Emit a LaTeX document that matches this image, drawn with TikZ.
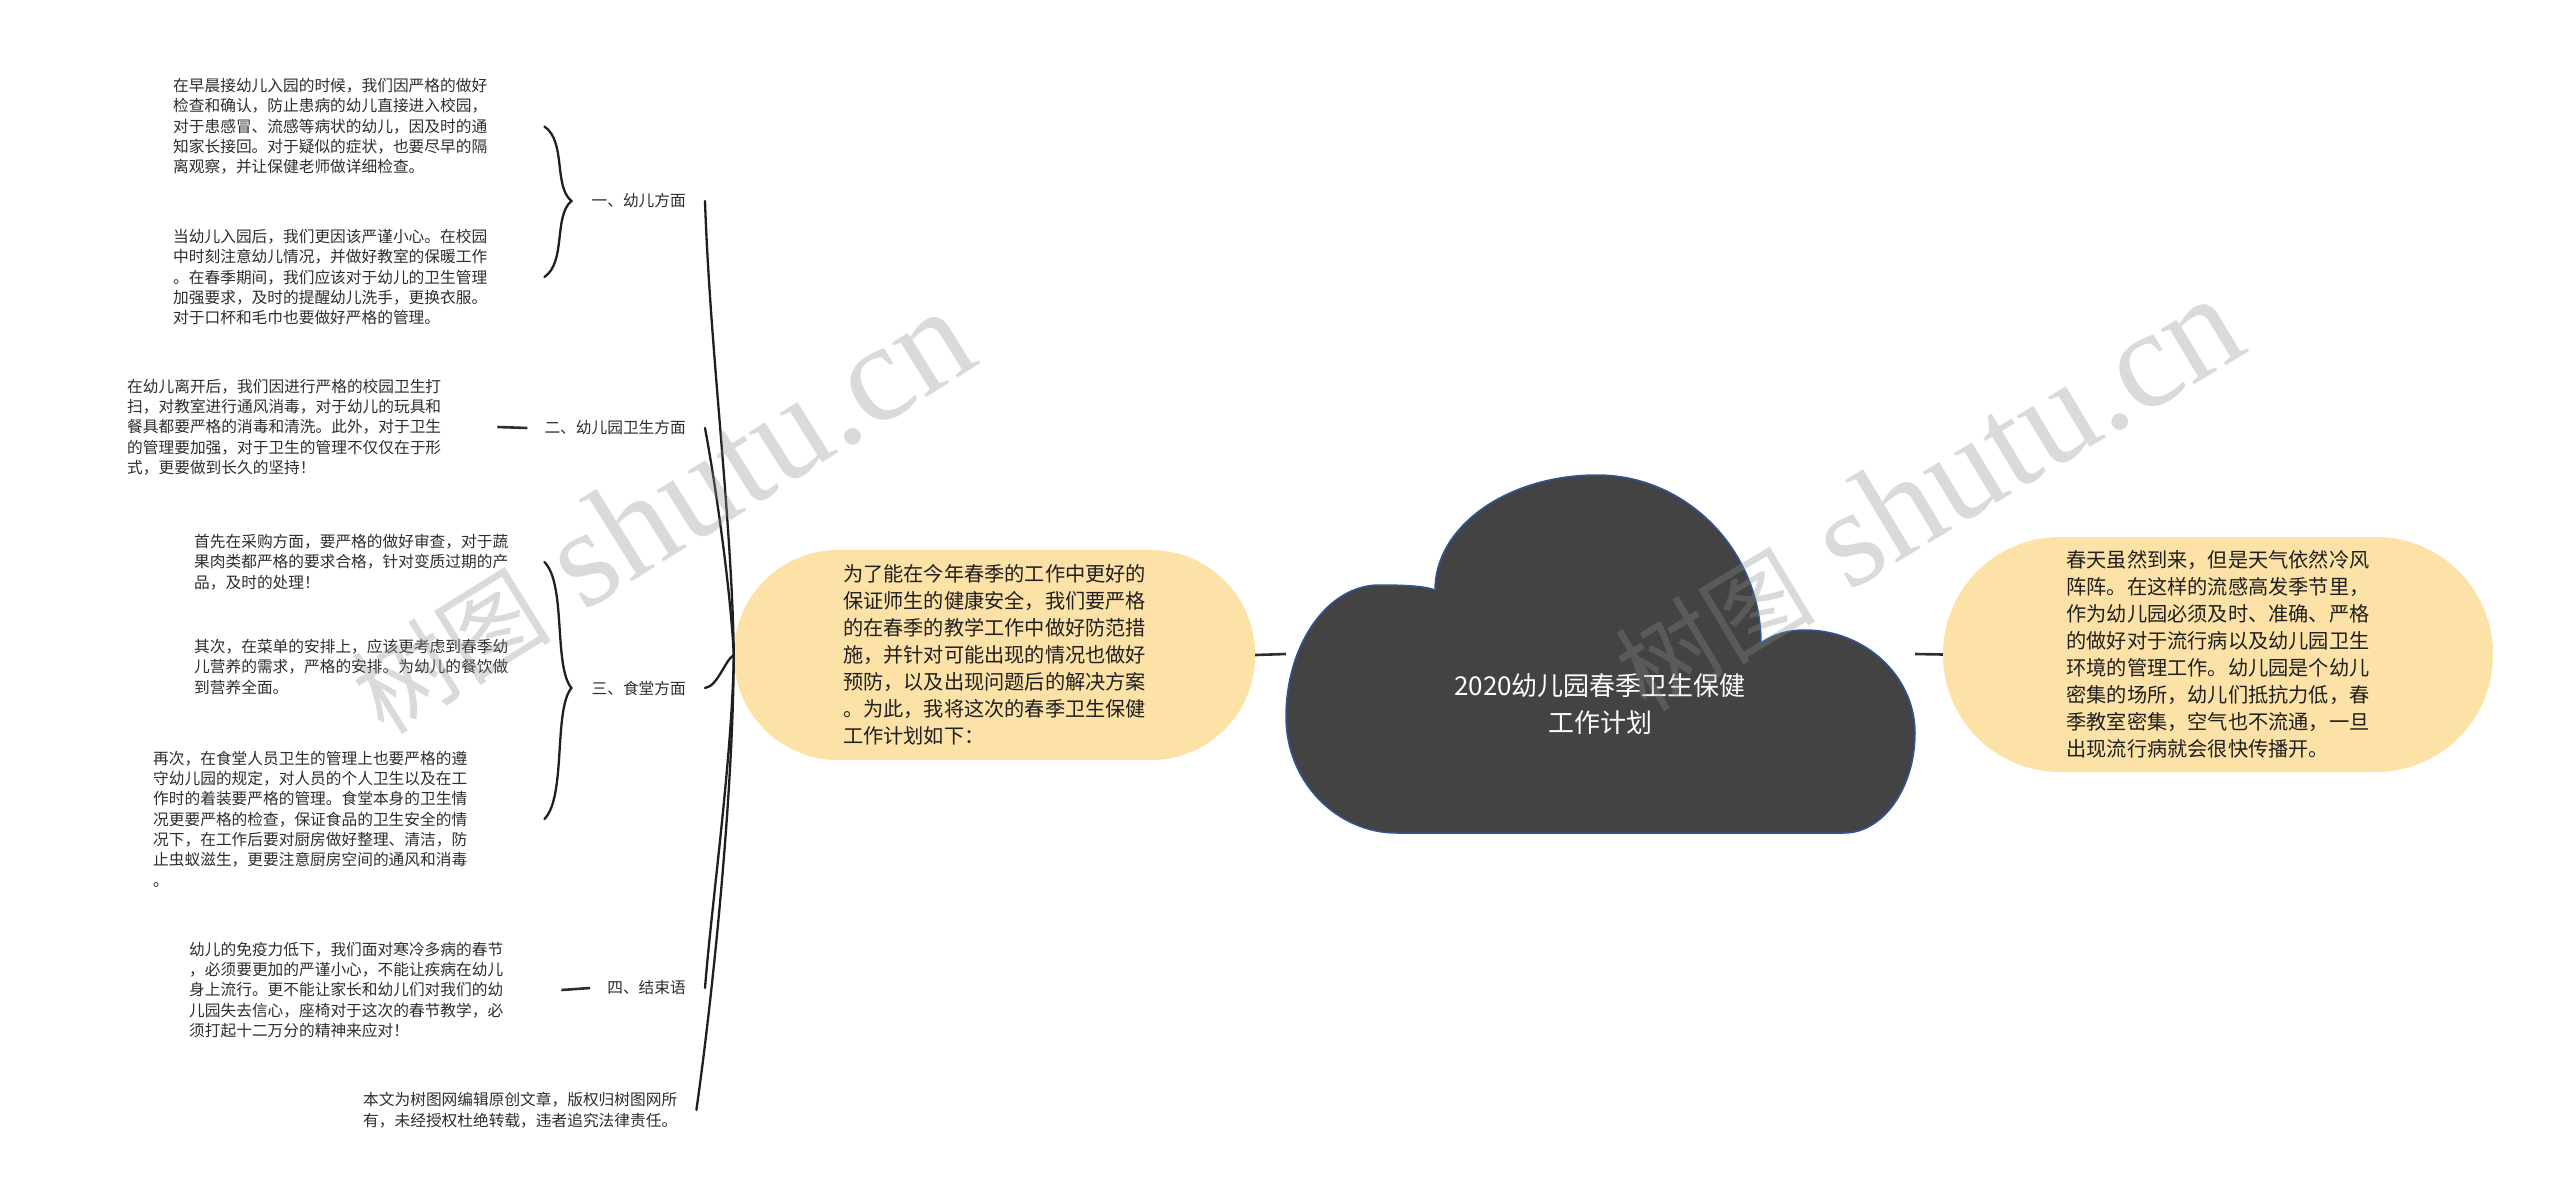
\documentclass[tikz,border=0pt]{standalone}
\usepackage{fontspec}
\setmainfont{Noto Sans CJK SC}
\newfontfamily\wmfont{Liberation Serif}
\definecolor{bubble}{RGB}{253,226,167}
\definecolor{cloudgray}{RGB}{67,67,67}
\definecolor{cloudline}{RGB}{47,85,151}
\definecolor{ink}{RGB}{45,45,45}

\begin{document}
\begin{tikzpicture}[
    x=1pt, y=-1pt,
    leaf/.style={inner sep=0pt, anchor=west, align=left, text=ink,
                 font=\fontsize{15.7}{20.3}\selectfont},
    topic/.style={inner sep=0pt, anchor=east, text=ink,
                  font=\fontsize{15.7}{20.3}\selectfont},
    bubblebox/.style={fill=bubble, rounded corners=#1, align=left, text=black!88,
                      font=\fontsize{20.2}{27}\selectfont},
    brace/.style={line width=2.3pt, black!88, line cap=round},
    link/.style={line width=2.6pt, ink},
    wmark/.style={text=black!45, text opacity=0.32, inner sep=0pt,
                  font=\wmfont\fontsize{140}{140}\selectfont}
]
\useasboundingbox (0,0) rectangle (2560,1203);

% main nodes
\node[bubblebox=104pt, minimum width=521pt, minimum height=210pt] (lbub) at (994.5,655)
  {为了能在今年春季的工作中更好的\\保证师生的健康安全，我们要严格\\的在春季的教学工作中做好防范措\\施，并针对可能出现的情况也做好\\预防，以及出现问题后的解决方案\\。为此，我将这次的春季卫生保健\\工作计划如下：};
\node[bubblebox=117pt, minimum width=550pt, minimum height=235pt] (rbub) at (2218,654.5)
  {春天虽然到来，但是天气依然冷风\\阵阵。在这样的流感高发季节里，\\作为幼儿园必须及时、准确、严格\\的做好对于流行病以及幼儿园卫生\\环境的管理工作。幼儿园是个幼儿\\密集的场所，幼儿们抵抗力低，春\\季教室密集，空气也不流通，一旦\\出现流行病就会很快传播开。};
\node[inner sep=0pt, minimum width=629pt, minimum height=358pt] (root) at (1600.5,654) {};

\draw[fill=cloudgray, draw=cloudline, line width=1.5pt]
  (1397,833) .. controls (1336,833) and (1286,781) .. (1286,717)
  .. controls (1286,644) and (1328,585) .. (1379,585)
  .. controls (1405,585) and (1425,586) .. (1435,590)
  .. controls (1435,526) and (1508,475) .. (1597,475)
  .. controls (1687,475) and (1761,551) .. (1761,643)
  .. controls (1775,633) and (1790,630) .. (1805,630)
  .. controls (1865,630) and (1915,676) .. (1915,733)
  .. controls (1915,788) and (1883,833) .. (1844,833)
  -- cycle;
\node[align=center, text=white, inner sep=0pt, font=\fontsize{26}{37}\selectfont] (title) at (1600,704)
  {2020幼儿园春季卫生保健\\工作计划};

\draw[link] (lbub.east) -- (root.west);
\draw[link] (root.east) -- (rbub.west);

% topics
\node[topic] (t1) at (686,201) {一、幼儿方面};
\node[topic] (t2) at (686,428) {二、幼儿园卫生方面};
\node[topic] (t3) at (686,688) {三、食堂方面};
\node[topic] (t4) at (686,988) {四、结束语};

% leaves
\node[leaf] (c1a) at (173,126.5) {在早晨接幼儿入园的时候，我们因严格的做好\\检查和确认，防止患病的幼儿直接进入校园，\\对于患感冒、流感等病状的幼儿，因及时的通\\知家长接回。对于疑似的症状，也要尽早的隔\\离观察，并让保健老师做详细检查。};
\node[leaf] (c1b) at (173,277) {当幼儿入园后，我们更因该严谨小心。在校园\\中时刻注意幼儿情况，并做好教室的保暖工作\\。在春季期间，我们应该对于幼儿的卫生管理\\加强要求，及时的提醒幼儿洗手，更换衣服。\\对于口杯和毛巾也要做好严格的管理。};
\node[leaf] (c2) at (127,427) {在幼儿离开后，我们因进行严格的校园卫生打\\扫，对教室进行通风消毒，对于幼儿的玩具和\\餐具都要严格的消毒和清洗。此外，对于卫生\\的管理要加强，对于卫生的管理不仅仅在于形\\式，更要做到长久的坚持！};
\node[leaf] (c3a) at (194,562) {首先在采购方面，要严格的做好审查，对于蔬\\果肉类都严格的要求合格，针对变质过期的产\\品，及时的处理！};
\node[leaf] (c3b) at (194,667) {其次，在菜单的安排上，应该更考虑到春季幼\\儿营养的需求，严格的安排。为幼儿的餐饮做\\到营养全面。};
\node[leaf] (c3c) at (153,819) {再次，在食堂人员卫生的管理上也要严格的遵\\守幼儿园的规定，对人员的个人卫生以及在工\\作时的着装要严格的管理。食堂本身的卫生情\\况更要严格的检查，保证食品的卫生安全的情\\况下，在工作后要对厨房做好整理、清洁，防\\止虫蚁滋生，更要注意厨房空间的通风和消毒\\。};
\node[leaf] (c4) at (189,990) {幼儿的免疫力低下，我们面对寒冷多病的春节\\，必须要更加的严谨小心，不能让疾病在幼儿\\身上流行。更不能让家长和幼儿们对我们的幼\\儿园失去信心，座椅对于这次的春节教学，必\\须打起十二万分的精神来应对！};
\node[leaf] (foot) at (363,1110) {本文为树图网编辑原创文章，版权归树图网所\\有，未经授权杜绝转载，违者追究法律责任。};

% braces
\coordinate (hub) at (lbub.west);
\coordinate (k1) at ([xshift=-20pt]t1.west);
\coordinate (k3) at ([xshift=-20pt]t3.west);
\coordinate (s1) at ([xshift=-47pt]t1.west);
\coordinate (s3) at ([xshift=-47pt]t3.west);

\draw[brace] (s1 |- c1a.east) .. controls +(22,15) and +(-18,-15) .. (k1)
  .. controls +(-18,15) and +(22,-15) .. (s1 |- c1b.east);
\draw[brace] (s3 |- c3a.east) .. controls +(22,22) and +(-18,-22) .. (k3)
  .. controls +(-18,22) and +(22,-22) .. (s3 |- c3c.east);

\draw[link] ([xshift=56pt]c2.east) -- ([xshift=-17pt]t2.west);
\draw[link] ([xshift=58pt]c4.east) -- ([xshift=-17pt]t4.west);

\draw[brace] ([xshift=19pt]t1.east) .. controls (710,350) and (732,520) .. (hub);
\draw[brace] ([xshift=19pt]t2.east) .. controls (713,470) and (730,580) .. (hub);
\draw[brace] ([xshift=19pt]t3.east) .. controls (718,686) and (725,660) .. (hub);
\draw[brace] (hub) .. controls (732,760) and (712,900) .. ([xshift=19pt]t4.east);
\draw[brace] (hub) .. controls (733,800) and (712,1000) .. ([xshift=19pt]foot.east |- foot.east);

% watermark
\node[wmark, rotate=32] (wm1) at (660,512) {{\rmfamily\fontsize{100}{100}\selectfont 树图} shutu.cn};
\node[wmark, rotate=31] (wm2) at (1926,494) {{\rmfamily\fontsize{100}{100}\selectfont 树图} shutu.cn};
\end{tikzpicture}
\end{document}
